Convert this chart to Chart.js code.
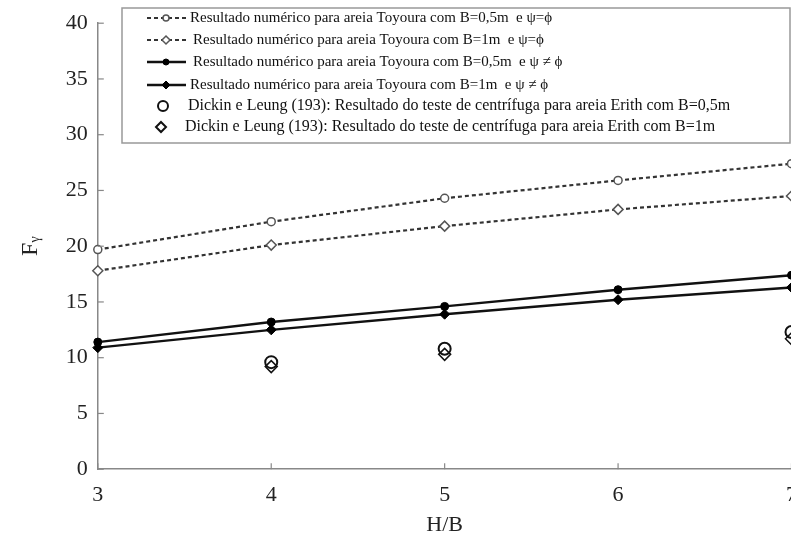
<!DOCTYPE html>
<html>
<head>
<meta charset="utf-8">
<script src="https://cdn.jsdelivr.net/npm/chart.js@4.4.0/dist/chart.umd.min.js"></script>
<style>
  html, body { margin: 0; padding: 0; background: #fff; overflow: hidden; }
  #wrap { width: 810px; height: 538px; position: relative; }
</style>
</head>
<body>
<div id="wrap"><canvas id="c"></canvas></div>
<script>
// ---- data ----
const hbValues = [3, 4, 5, 6, 7];
const toyoura05Equal = [19.7, 22.2, 24.3, 25.9, 27.4];
const toyoura1Equal = [17.8, 20.1, 21.8, 23.3, 24.5];
const toyoura05Diff = [11.4, 13.2, 14.6, 16.1, 17.4];
const toyoura1Diff = [10.9, 12.5, 13.9, 15.2, 16.3];
const dickinHB = [4, 5, 7];
const dickin05 = [9.6, 10.8, 12.3];
const dickin1 = [9.2, 10.3, 11.7];
const xTicks = [3, 4, 5, 6, 7];
const yTicks = [0, 5, 10, 15, 20, 25, 30, 35, 40];
const seriesLabels = [
  "Resultado numérico para areia Toyoura com B=0,5m  e ψ=ϕ",
  "Resultado numérico para areia Toyoura com B=1m  e ψ=ϕ",
  "Resultado numérico para areia Toyoura com B=0,5m  e ψ ≠ ϕ",
  "Resultado numérico para areia Toyoura com B=1m  e ψ ≠ ϕ",
  "Dickin e Leung (193): Resultado do teste de centrífuga para areia Erith com B=0,5m",
  "Dickin e Leung (193): Resultado do teste de centrífuga para areia Erith com B=1m"
];

const pts = (xs, ys) => xs.map((x, i) => ({ x: x, y: ys[i] }));

const datasets = [
  { label: seriesLabels[0], data: pts(hbValues, toyoura05Equal), borderColor: '#333', borderWidth: 2.2, borderDash: [4, 3],
    pointStyle: 'circle', pointRadius: 4, pointBackgroundColor: '#fff', pointBorderColor: '#555', pointBorderWidth: 1.5, showLine: true },
  { label: seriesLabels[1], data: pts(hbValues, toyoura1Equal), borderColor: '#333', borderWidth: 2.2, borderDash: [4, 3],
    pointStyle: 'rectRot', pointRadius: 5, pointBackgroundColor: '#fff', pointBorderColor: '#555', pointBorderWidth: 1.5, showLine: true },
  { label: seriesLabels[2], data: pts(hbValues, toyoura05Diff), borderColor: '#111', borderWidth: 2.4, borderDash: [],
    pointStyle: 'circle', pointRadius: 4, pointBackgroundColor: '#000', pointBorderColor: '#000', pointBorderWidth: 1, showLine: true },
  { label: seriesLabels[3], data: pts(hbValues, toyoura1Diff), borderColor: '#111', borderWidth: 2.4, borderDash: [],
    pointStyle: 'rectRot', pointRadius: 5, pointBackgroundColor: '#000', pointBorderColor: '#000', pointBorderWidth: 1, showLine: true },
  { label: seriesLabels[4], data: pts(dickinHB, dickin05), showLine: false, borderColor: '#111',
    pointStyle: 'circle', pointRadius: 6, pointBackgroundColor: 'rgba(255,255,255,0)', pointBorderColor: '#111', pointBorderWidth: 2 },
  { label: seriesLabels[5], data: pts(dickinHB, dickin1), showLine: false, borderColor: '#111',
    pointStyle: 'rectRot', pointRadius: 6, pointBackgroundColor: 'rgba(255,255,255,0)', pointBorderColor: '#111', pointBorderWidth: 1.5 }
];
datasets.forEach(d => { d.clip = false; d.tension = 0; d.fill = false; });

function drawMarker(ctx, style, x, y, r, fill, stroke, lw) {
  ctx.save();
  ctx.beginPath();
  if (style === 'circle') {
    ctx.arc(x, y, r, 0, Math.PI * 2);
  } else {
    ctx.moveTo(x, y - r); ctx.lineTo(x + r, y); ctx.lineTo(x, y + r); ctx.lineTo(x - r, y); ctx.closePath();
  }
  ctx.setLineDash([]);
  ctx.fillStyle = fill; ctx.fill();
  ctx.lineWidth = lw; ctx.strokeStyle = stroke; ctx.stroke();
  ctx.restore();
}

const innerTicks = {
  id: 'innerTicks',
  afterDraw(chart) {
    const ctx = chart.ctx, a = chart.chartArea;
    const xs = chart.scales.x, ys = chart.scales.y;
    ctx.save();
    ctx.strokeStyle = '#888'; ctx.lineWidth = 1.2;
    yTicks.forEach(v => { const p = ys.getPixelForValue(v); ctx.beginPath(); ctx.moveTo(a.left, p); ctx.lineTo(a.left + 6, p); ctx.stroke(); });
    xTicks.forEach(v => { const p = xs.getPixelForValue(v); ctx.beginPath(); ctx.moveTo(p, a.bottom); ctx.lineTo(p, a.bottom - 6); ctx.stroke(); });
    ctx.restore();
  }
};

const boxLegend = {
  id: 'boxLegend',
  afterDraw(chart) {
    const ctx = chart.ctx;
    const bx = 122, by = 8, bw = 668, bh = 135;
    ctx.save();
    ctx.fillStyle = '#fff';
    ctx.fillRect(bx, by, bw, bh);
    ctx.strokeStyle = '#999'; ctx.lineWidth = 1.5;
    ctx.strokeRect(bx, by, bw, bh);
    const rowY = [18, 40, 62, 85, 106, 127];
    const textX = [190, 193, 193, 190, 188, 185];
    const sizes = [15, 15, 15, 15, 16, 16];
    ctx.textBaseline = 'middle';
    chart.data.datasets.forEach((d, i) => {
      const y = rowY[i];
      if (d.showLine) {
        ctx.save();
        ctx.strokeStyle = d.borderColor; ctx.lineWidth = d.borderWidth;
        ctx.setLineDash(d.borderDash || []);
        ctx.beginPath(); ctx.moveTo(147, y); ctx.lineTo(186, y); ctx.stroke();
        ctx.restore();
        drawMarker(ctx, d.pointStyle, 166, y, d.pointRadius - 1, d.pointBackgroundColor, d.pointBorderColor, d.pointBorderWidth);
      } else {
        drawMarker(ctx, d.pointStyle, i === 4 ? 163 : 161, y, d.pointRadius - 1, '#fff', d.pointBorderColor, 2);
      }
      ctx.font = sizes[i] + 'px "Liberation Serif", "DejaVu Serif", serif';
      ctx.fillStyle = '#111';
      ctx.fillText(d.label, textX[i], y);
    });
    ctx.restore();
  }
};

new Chart(document.getElementById('c'), {
  type: 'scatter',
  data: { datasets: datasets },
  plugins: [innerTicks, boxLegend],
  options: {
    responsive: true,
    maintainAspectRatio: false,
    animation: false,
    layout: { padding: { top: 6, right: 0, left: 12, bottom: 0 } },
    plugins: { legend: { display: false }, tooltip: { enabled: false } },
    scales: {
      x: {
        type: 'linear', min: 3, max: 7,
        afterBuildTicks: s => { s.ticks = xTicks.map(v => ({ value: v })); },
        grid: { display: true, drawOnChartArea: false, drawTicks: false },
        border: { display: true, color: '#888', width: 1.5 },
        ticks: { color: '#222', padding: 13, font: { family: '"Liberation Serif", serif', size: 22 } },
        title: { display: true, text: 'H/B', color: '#222', padding: { top: -10, bottom: 0 }, font: { family: '"Liberation Serif", serif', size: 22 } }
      },
      y: {
        type: 'linear', min: 0, max: 40,
        afterBuildTicks: s => { s.ticks = yTicks.map(v => ({ value: v })); },
        grid: { display: true, drawOnChartArea: false, drawTicks: false },
        border: { display: true, color: '#888', width: 1.5 },
        ticks: { color: '#222', padding: 10, font: { family: '"Liberation Serif", serif', size: 22 } },
        title: { display: true, text: 'Fᵧ', color: '#222', padding: { bottom: 11 }, font: { family: '"Liberation Serif", serif', size: 24 } }
      }
    }
  }
});
</script>
</body>
</html>
